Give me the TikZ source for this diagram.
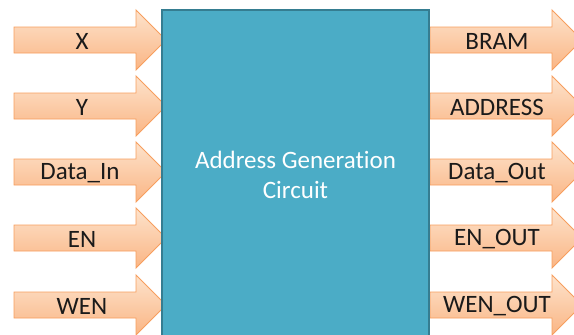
\documentclass[tikz,border=0pt]{standalone}
\usepackage{fontspec}
\setmainfont[Ligatures=CommonOff]{Carlito}
\definecolor{boxfill}{HTML}{4BACC6}
\definecolor{boxline}{HTML}{357D91}
\definecolor{arrowtop}{HTML}{FDE3CC}
\definecolor{arrowbot}{HTML}{FAB584}
\definecolor{arrowline}{HTML}{F79E5E}
\definecolor{labeltext}{HTML}{1A1A1A}
\tikzset{
  sigarrow/.style={draw=arrowline, line width=0.9pt, top color=arrowtop, bottom color=arrowbot, line join=miter},
  siglabel/.style={font=\fontsize{25}{28}\selectfont, text=labeltext, inner sep=0pt, anchor=center},
  corebox/.style={draw=boxline, line width=1.4pt, fill=boxfill},
  corelabel/.style={font=\fontsize{25}{30}\selectfont, text=white, align=center, inner sep=0pt}
}
% block arrow: left end x, row centre y, label name, label text, label x
\newcommand{\blockarrow}[5]{%
  \path[sigarrow] (#1,#2-13) -- ++(122,0) -- ++(0,-17) -- ++(30,30) -- ++(-30,30) -- ++(0,-17) -- ++(-122,0) -- cycle;
  \node[siglabel] (#3) at (#5,#2+1.5) {#4};
}
\begin{document}
\begin{tikzpicture}[x=1pt,y=-1pt]
\useasboundingbox (0,0) rectangle (574,335);
\clip (0,0) rectangle (574,335);
% inputs
\blockarrow{14}{40}{inX}{X}{82}
\blockarrow{14}{106}{inY}{Y}{82}
\blockarrow{14}{172}{inData}{Data\_In}{80}
\blockarrow{14}{238}{inEN}{EN}{82}
\blockarrow{14}{305}{inWEN}{WEN}{82}
% outputs
\blockarrow{430}{40}{outBRAM}{BRAM}{497}
\blockarrow{430}{106}{outADDR}{ADDRESS}{497}
\blockarrow{430}{172}{outData}{Data\_Out}{497}
\blockarrow{430}{238}{outEN}{EN\_OUT}{497}
\blockarrow{430}{305}{outWEN}{WEN\_OUT}{497}
% address generation block
\path[corebox] (162,10) rectangle (429,345);
\node[corelabel] (core) at (295.5,175) {Address Generation\\Circuit};
\end{tikzpicture}
\end{document}
